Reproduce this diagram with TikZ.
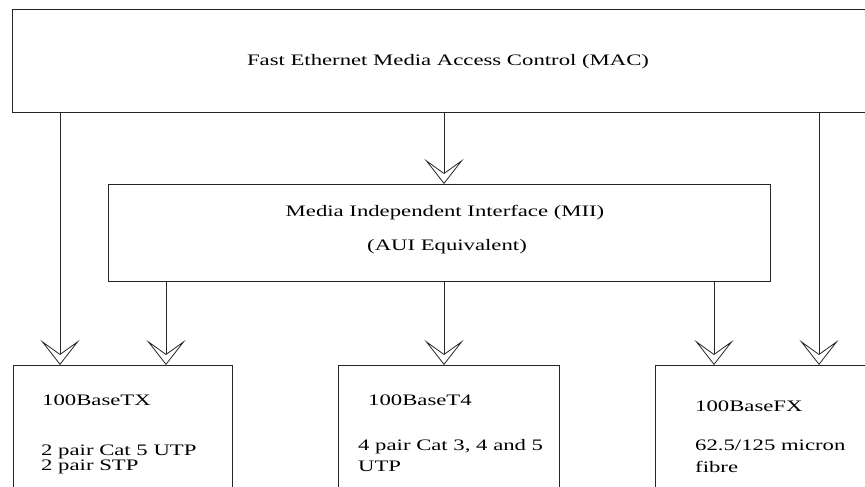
\documentclass[tikz,border=0pt]{standalone}
\usepackage{fontspec}
\setmainfont{Liberation Serif}[FakeStretch=1.42]
\usetikzlibrary{arrows.meta}
\begin{document}
\begin{tikzpicture}[x=1pt,y=-1pt,
  box/.style={draw=black!85, line width=0.9pt, inner sep=0pt, anchor=north west},
  lbl/.style={inner sep=0pt, font=\fontsize{16}{12}\selectfont},
  arr/.style={draw=black!85, line width=0.8pt, -{Stealth[fill=white, length=25pt, width=39pt, inset=14pt]}}]
\useasboundingbox (0,0) rectangle (865,487);
\clip (0,0) rectangle (865,487);
% boxes
\node[box, minimum width=880pt, minimum height=103pt] (mac) at (12,9) {};
\node[box, minimum width=662pt, minimum height=97pt] (mii) at (108,184) {};
\node[box, minimum width=219.4pt, minimum height=160pt] (tx) at (12.6,365) {};
\node[box, minimum width=221pt, minimum height=160pt] (t4) at (338,365) {};
\node[box, minimum width=250pt, minimum height=160pt] (fx) at (655,365) {};
% connector columns
\coordinate (ca) at (60,0);
\coordinate (cb) at (166,0);
\coordinate (cc) at (444,0);
\coordinate (cd) at (714,0);
\coordinate (ce) at (819,0);
% connectors
\draw[arr] (mac.south -| ca) -- (tx.north -| ca);
\draw[arr] (mac.south -| cc) -- (mii.north -| cc);
\draw[arr] (mac.south -| ce) -- (fx.north -| ce);
\draw[arr] (mii.south -| cb) -- (tx.north -| cb);
\draw[arr] (mii.south -| cc) -- (t4.north -| cc);
\draw[arr] (mii.south -| cd) -- (fx.north -| cd);
% labels
\node[lbl, anchor=base] (tmac) at (448,66) {Fast Ethernet Media Access Control (MAC)};
\node[lbl, anchor=base] (tmii1) at (445,216.5) {Media Independent Interface (MII)};
\node[lbl, anchor=base] (tmii2) at (447,250) {(AUI Equivalent)};
\node[lbl, anchor=base west] (ttx1) at (42,405.7) {100BaseTX};
\node[lbl, anchor=base west] (ttx2) at (41,455.5) {2 pair Cat 5 UTP};
\node[lbl, anchor=base west] (ttx3) at (41,470) {2 pair STP};
\node[lbl, anchor=base west] (tt41) at (368,405) {100BaseT4};
\node[lbl, anchor=base west] (tt42) at (358,450.7) {4 pair Cat 3, 4 and 5};
\node[lbl, anchor=base west] (tt43) at (358,471.7) {UTP};
\node[lbl, anchor=base west] (tfx1) at (695,411.7) {100BaseFX};
\node[lbl, anchor=base west] (tfx2) at (695,450) {62.5/125 micron};
\node[lbl, anchor=base west] (tfx3) at (695,472.7) {fibre};
\end{tikzpicture}
\end{document}
